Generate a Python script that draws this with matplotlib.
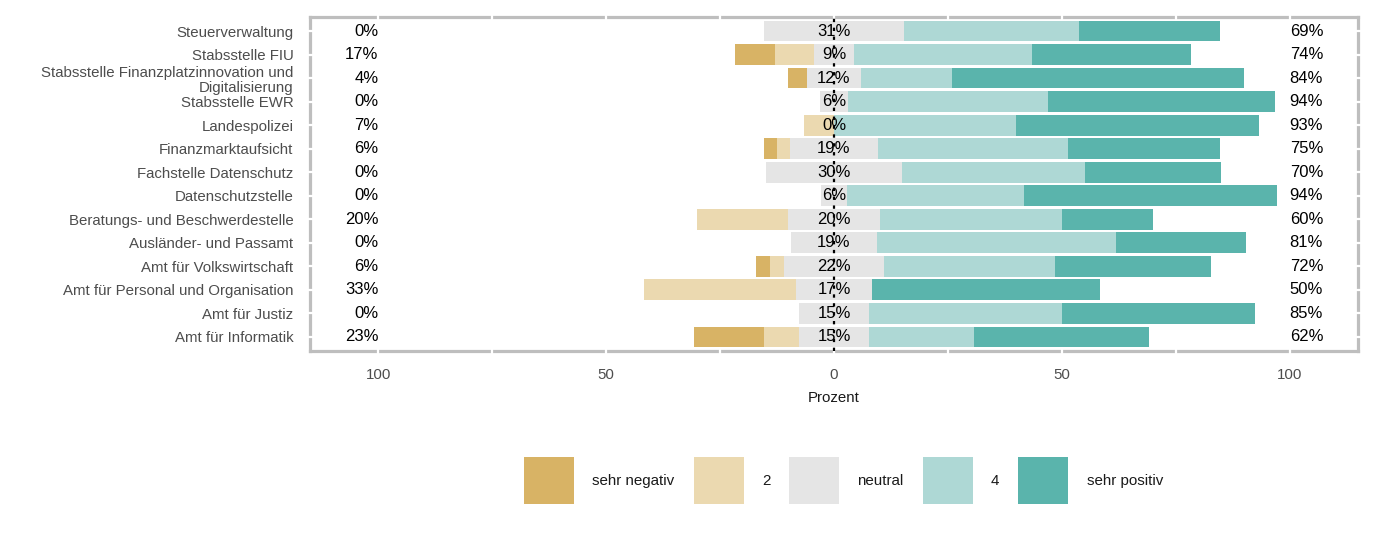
import matplotlib.pyplot as plt
from matplotlib.patches import Patch
import numpy as np

plt.rcParams['font.family'] = ['Liberation Sans', 'DejaVu Sans']

# Dienststellen, von oben nach unten
stellen = ['Steuerverwaltung', 'Stabsstelle FIU',
           'Stabsstelle Finanzplatzinnovation und\nDigitalisierung',
           'Stabsstelle EWR', 'Landespolizei', 'Finanzmarktaufsicht',
           'Fachstelle Datenschutz', 'Datenschutzstelle',
           'Beratungs- und Beschwerdestelle', 'Ausländer- und Passamt',
           'Amt für Volkswirtschaft', 'Amt für Personal und Organisation',
           'Amt für Justiz', 'Amt für Informatik']

# Anteile in Prozent
sehr_negativ = [0, 8.70, 4.00, 0, 0, 2.78, 0, 0, 0, 0, 3.12, 0, 0, 15.38]
stufe_2 = [0, 8.70, 0, 0, 6.67, 2.78, 0, 0, 20.00, 0, 3.12, 33.33, 0, 7.69]
neutral = [30.77, 8.70, 12.00, 6.25, 0, 19.44, 30.00, 5.56, 20.00, 19.05, 21.88, 16.67, 15.38, 15.38]
stufe_4 = [38.46, 39.13, 20.00, 43.75, 40.00, 41.67, 40.00, 38.89, 40.00, 52.38, 37.50, 0, 42.31, 23.08]
sehr_positiv = [30.77, 34.78, 64.00, 50.00, 53.33, 33.33, 30.00, 55.56, 20.00, 28.57, 34.38, 50.00, 42.31, 38.46]

stufen = ['sehr negativ', '2', 'neutral', '4', 'sehr positiv']
farben = ['#D8B365', '#EBD9B0', '#E5E5E5', '#AED8D5', '#5AB4AC']

werte = np.array([sehr_negativ, stufe_2, neutral, stufe_4, sehr_positiv])
n = len(stellen)
y = np.arange(n)[::-1]

fig = plt.figure(figsize=(13.77, 5.41), dpi=100)
ax = fig.add_axes([0.2251, 0.3512, 0.7611, 0.6174])

start = -(werte[0] + werte[1] + werte[2] / 2)
links = start.copy()
for i in range(5):
    ax.barh(y, werte[i], left=links, height=0.88, color=farben[i], zorder=3)
    links = links + werte[i]

ax.axvline(0, color='black', lw=1.6, ls=(0, (1.5, 2.5)), zorder=4)

neg = werte[0] + werte[1]
pos = werte[3] + werte[4]
for k in range(n):
    ax.text(-100, y[k], f'{neg[k]:.0f}%', ha='right', va='center', fontsize=12, zorder=5)
    ax.text(0, y[k], f'{werte[2][k]:.0f}%', ha='center', va='center', fontsize=12, zorder=5)
    ax.text(100, y[k], f'{pos[k]:.0f}%', ha='left', va='center', fontsize=12, zorder=5)

ax.set_xlim(-115, 115)
ax.set_ylim(-0.6, n - 0.4)
ax.set_xticks([-100, -50, 0, 50, 100])
ax.set_xticklabels(['100', '50', '0', '50', '100'])
ax.set_yticks(y)
ax.set_yticklabels(stellen, linespacing=1.1)
ax.tick_params(axis='both', length=0, labelsize=10.8, labelcolor='#4D4D4D')
ax.tick_params(axis='y', pad=12)
ax.tick_params(axis='x', pad=12)
ax.set_xlabel('Prozent', fontsize=10.8, color='#1A1A1A', labelpad=7)

for s in ax.spines.values():
    s.set_color('#BEBEBE')
    s.set_linewidth(2.3)
    s.set_zorder(2.5)

# weisse Gitterlinien, nur auf dem Rahmen sichtbar
for gx in np.arange(-100, 101, 25):
    ax.axvline(gx, color='white', lw=1.6, ymin=-0.02, ymax=1.02, clip_on=False, zorder=2.6)
for gy in y:
    ax.axhline(gy, color='white', lw=1.6, xmin=-0.01, xmax=1.01, clip_on=False, zorder=2.6)

handles = [Patch(facecolor=f, edgecolor='none') for f in farben]
fig.legend(handles, stufen, ncol=5, loc='center', bbox_to_anchor=(0.6126, 0.111),
           frameon=False, fontsize=10.9, handlelength=3.3, handleheight=4.4,
           handletextpad=1.2, columnspacing=1.26, labelcolor='#1A1A1A')

fig.savefig('out.png', dpi=100)
